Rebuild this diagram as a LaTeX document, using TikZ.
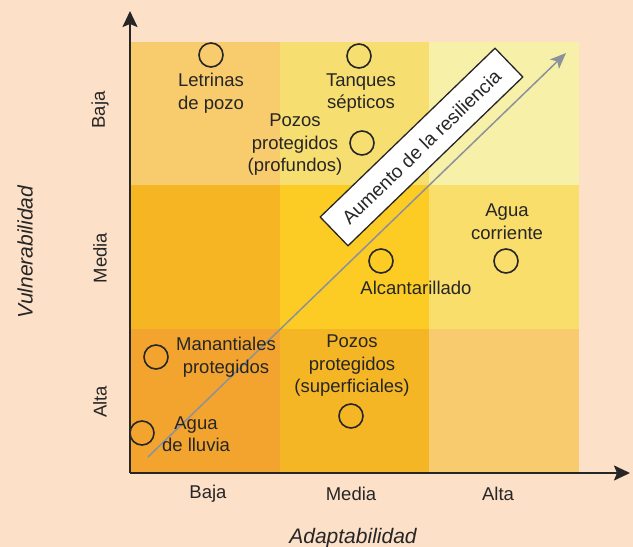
\documentclass[tikz,border=0pt]{standalone}
\usepackage{fontspec}
\setmainfont{Liberation Sans}
\usetikzlibrary{arrows.meta}
\definecolor{bg}{HTML}{FDE0C8}
\definecolor{cTL}{HTML}{F8CB6C}
\definecolor{cTM}{HTML}{F7DE70}
\definecolor{cTR}{HTML}{F7F0A8}
\definecolor{cML}{HTML}{F6B523}
\definecolor{cMM}{HTML}{FCCC24}
\definecolor{cMR}{HTML}{F9DE6C}
\definecolor{cBL}{HTML}{F2A42F}
\definecolor{cBM}{HTML}{F5B625}
\definecolor{cBR}{HTML}{F8CC6E}
\definecolor{arrgray}{HTML}{8C919B}
\definecolor{ink}{HTML}{262626}
\begin{document}
\begin{tikzpicture}[x=1pt,y=-1pt,
  lbl/.style={font=\fontsize{18.5}{22.5}\selectfont, align=center, inner sep=0pt, text=ink},
  ring/.style={circle, draw=ink, line width=1.6pt, minimum size=24pt, inner sep=0pt},
  axlbl/.style={font=\fontsize{18.5}{22}\selectfont, inner sep=0pt, text=ink},
  axtitle/.style={font=\fontsize{21}{24}\selectfont\itshape, inner sep=0pt, text=ink},
  axisline/.style={draw=ink, line width=2pt, -{Stealth[length=16pt,width=15pt,inset=3pt]}},
  resarrow/.style={draw=arrgray, line width=1.5pt, -{Stealth[length=16pt,width=13pt,inset=4pt]}},
  resbox/.style={draw=ink, line width=1.3pt, fill=white, rotate=44, minimum width=243pt, minimum height=40pt, inner sep=0pt, font=\fontsize{19}{22}\selectfont, text=ink}
]
\useasboundingbox[fill=bg] (0,0) rectangle (633,547);
% cells
\fill[cTL] (130,42) rectangle (280,185);
\fill[cTM] (280,42) rectangle (429,185);
\fill[cTR] (429,42) rectangle (579,185);
\fill[cML] (130,185) rectangle (280,329);
\fill[cMM] (280,185) rectangle (429,329);
\fill[cMR] (429,185) rectangle (579,329);
\fill[cBL] (130,329) rectangle (280,473);
\fill[cBM] (280,329) rectangle (429,473);
\fill[cBR] (429,329) rectangle (579,473);
% axes
\coordinate (O) at (130,473);
\coordinate (ytop) at (130,11);
\coordinate (xend) at (630,473);
\draw[axisline] (O) -- (ytop);
\draw[axisline] (O) -- (xend);
% resilience arrow
\coordinate (g0) at (148,457);
\coordinate (g1) at (566,53);
\draw[resarrow] (g0) -- (g1);
\node[resbox] (res) at (421.5,147) {Aumento de la resiliencia};
% circles
\node[ring] (cLet) at (211,55) {};
\node[ring] (cTan) at (359,56) {};
\node[ring] (cPpr) at (362,143) {};
\node[ring] (cAlc) at (381,261) {};
\node[ring] (cAco) at (506,261) {};
\node[ring] (cMan) at (156,357) {};
\node[ring] (cPsu) at (351,416) {};
\node[ring] (cLlu) at (142,433) {};
% labels
\node[lbl] (tLet) at (211,93) {Letrinas\\de pozo};
\node[lbl] (tTan) at (361,93) {Tanques\\sépticos};
\node[lbl] (tPpr) at (295,145) {Pozos\\protegidos\\(profundos)};
\node[lbl] (tAlc) at (416,288) {Alcantarillado};
\node[lbl] (tAco) at (507,221.5) {Agua\\corriente};
\node[lbl] (tMan) at (226,357) {Manantiales\\protegidos};
\node[lbl] (tPsu) at (352,366) {Pozos\\protegidos\\(superficiales)};
\node[lbl] (tLlu) at (196,434) {Agua\\de lluvia};
% axis labels
\node[axlbl, rotate=90] (vB) at (100,110) {Baja};
\node[axlbl, rotate=90] (vM) at (100,258) {Media};
\node[axlbl, rotate=90] (vA) at (100,402) {Alta};
\node[axtitle, rotate=90] (vT) at (25,252) {Vulnerabilidad};
\node[axlbl] (hB) at (208,494) {Baja};
\node[axlbl] (hM) at (351,494) {Media};
\node[axlbl] (hA) at (498,494) {Alta};
\node[axtitle] (hT) at (353,538) {Adaptabilidad};
\end{tikzpicture}
\end{document}
